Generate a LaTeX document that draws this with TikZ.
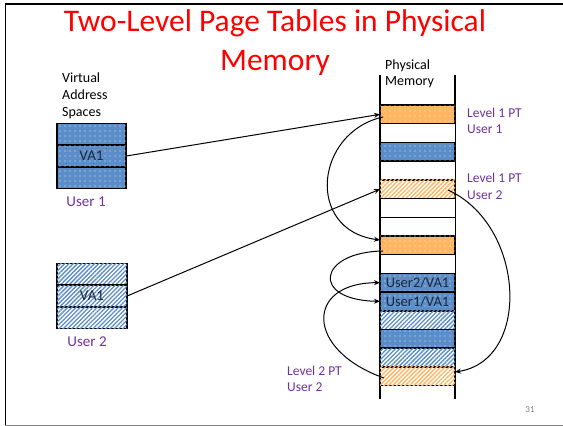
\documentclass[tikz,border=0pt]{standalone}
\usepackage{fontspec}
\setmainfont{Carlito}
\usetikzlibrary{patterns.meta,arrows.meta}
\definecolor{porange}{HTML}{FFB562}
\definecolor{pblue}{HTML}{5B8DC8}
\definecolor{ppurple}{HTML}{7030A0}
\definecolor{ptext}{HTML}{1A2838}
\definecolor{ptitle}{HTML}{FF0000}
\begin{document}
\begin{tikzpicture}[x=1pt,y=-1pt,
  cell/.style={draw=black, line width=0.8pt, minimum width=75pt, minimum height=18.7pt,
    inner sep=0pt, outer sep=0pt, anchor=north west, text=ptext,
    font=\fontsize{14.5}{16}\selectfont},
  wrow/.style={cell, fill=white},
  odot/.style={cell, line width=1.6pt, fill=porange,
    postaction={pattern={Dots[distance=5pt,radius=0.55pt]}, pattern color=white!85!porange}},
  bdot/.style={cell, line width=1.6pt, fill=pblue,
    postaction={pattern={Dots[distance=5pt,radius=0.55pt]}, pattern color=white!85!pblue}},
  ohat/.style={cell, line width=1.6pt, fill=white,
    postaction={pattern={Lines[angle=45,distance=3pt,line width=1.3pt]}, pattern color=porange}},
  bhat/.style={cell, line width=1.6pt, fill=white,
    postaction={pattern={Lines[angle=45,distance=3pt,line width=1.3pt]}, pattern color=pblue}},
  vdot/.style={bdot, minimum width=69pt, minimum height=21.7pt, font=\fontsize{15}{16}\selectfont},
  vhat/.style={bhat, minimum width=70pt, minimum height=21.7pt, font=\fontsize{15}{16}\selectfont},
  lbl/.style={inner sep=0pt, align=left, font=\fontsize{14}{16.8}\selectfont},
  plbl/.style={inner sep=0pt, align=left, text=ppurple, font=\fontsize{13.5}{16.3}\selectfont},
  ulbl/.style={inner sep=0pt, text=ppurple, font=\fontsize{15}{16}\selectfont},
  arr/.style={line width=1pt, -{Stealth[length=6pt,width=5pt]}},
]
\useasboundingbox (0,0) rectangle (563,426);
% slide frame
\draw[line width=1.6pt] (5,4) -- (563,4);
\draw[line width=1.6pt] (5.5,4) -- (5.5,425);
\draw[line width=1pt, gray] (5,425) -- (563,425);

% title
\node[inner sep=0pt, align=center, text=ptitle, font=\fontsize{31.5}{39}\selectfont]
  (title) at (275,43) {Two-Level Page Tables in Physical\\Memory};

% physical memory column
\draw[line width=1.2pt] (380,75) -- (380,399);
\draw[line width=1.2pt] (455,75) -- (455,399);
\node[lbl, anchor=west, font=\fontsize{14}{16}\selectfont] (pm) at (385,74) {Physical\\Memory};

\foreach \i/\s/\t in {1/odot/,2/wrow/,3/bdot/,4/wrow/,5/ohat/,6/wrow/,7/wrow/,8/odot/,
    9/wrow/,10/bdot/User2\slash VA1,11/bdot/User1\slash VA1,12/bhat/,13/bdot/,14/bhat/,15/ohat/}
  \node[\s] (m\i) at (380,{105+(\i-1)*18.7}) {\t};

% virtual address spaces
\node[lbl, anchor=west] (vas) at (62,96) {Virtual\\Address\\Spaces};
\node[vdot] (u1a) at (57,123.5) {};
\node[vdot] (u1b) at (57,145.2) {VA1};
\node[vdot] (u1c) at (57,166.9) {};
\node[ulbl] (u1) at (86,202) {User 1};

\node[vhat] (u2a) at (57,263.5) {};
\node[vhat] (u2b) at (57,285.2) {VA1};
\node[vhat] (u2c) at (57,306.9) {};
\node[ulbl] (u2) at (87,342) {User 2};

% labels
\node[plbl, anchor=west] (l1u1) at (467,121) {Level 1 PT\\User 1};
\node[plbl, anchor=west] (l1u2) at (467,186.5) {Level 1 PT\\User 2};
\node[plbl, anchor=west] (l2u2) at (287,379) {Level 2 PT\\User 2};
\node[inner sep=0pt, text=gray, font=\fontsize{9}{10}\selectfont] (pg) at (530,410) {31};

% connectors
\coordinate (s3) at (383,117);
\coordinate (e3) at (380,240);
\coordinate (s4) at (383,251);
\coordinate (s5) at (384,378);
\coordinate (s6) at (448,190);
\coordinate (e6) at (455,372);
\draw[arr] (u1b.east) -- (m1.west);
\draw[arr] (u2b.east) -- (m5.west);
\draw[arr] (s3) .. controls (315,132) and (305,230) .. (e3);
\draw[arr] (s4) .. controls (318,252) and (310,300) .. (m11.west);
\draw[arr] (s5) .. controls (305,350) and (305,283) .. (m10.west);
\draw[arr] (s6) .. controls (525,225) and (532,360) .. (e6);
\end{tikzpicture}
\end{document}
